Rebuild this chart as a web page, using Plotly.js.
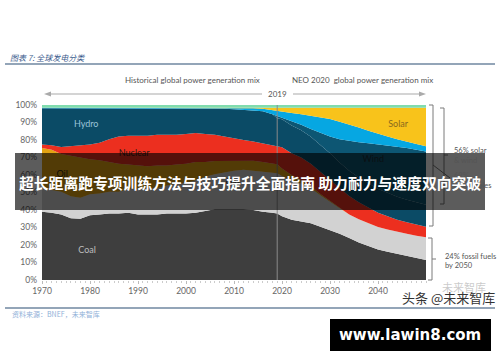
<!DOCTYPE html>
<html><head><meta charset="utf-8">
<script src="https://cdn.plot.ly/plotly-3.0.1.min.js"></script>
<style>html,body{margin:0;padding:0;background:#fff;}#chart{width:500px;height:362px;}</style>
</head><body><div id="chart"></div>
<script>
const years = [1970,1972,1974,1976,1978,1980,1982,1984,1986,1988,1990,1992,1994,1996,1998,2000,2002,2004,2006,2008,2010,2012,2014,2016,2018,2019,2020,2022,2024,2026,2028,2030,2032,2034,2036,2038,2040,2042,2044,2046,2048,2050];
const coal = [39,38.5,37.5,35.3,35,37,37.5,38,38,38.5,37.5,37.5,37.5,38,38,38,38.5,39.5,40.5,40.5,40.5,40.5,40,39,38.5,38,36.5,34.5,33.5,32.5,30.5,28.5,26.5,24,21.5,19.5,17.5,16.2,15,14,12.7,11.5];
const gas = [13,13,13,12.5,12,12,12,12.5,12.5,13.5,14.5,15,15,16,17,17.5,18.5,19.5,20,21,22,22.5,22.5,23,23,23,23,22.5,21.5,20,18,16.5,14.5,13.5,13.2,13,12.8,12.6,12.4,12.4,12.6,13];
const oil = [23.5,23,21.5,23.2,23,20,19,17,16,14,13.5,12.5,13,11.5,11,11,10.5,8.5,7.5,6.5,5.3,5,5.7,5.5,5.3,5.2,4.2,3,2,1.2,0.6,0.3,0.1,0,0,0,0,0,0,0,0,0];
const nuclear = [2,2.5,4,5.5,7,8.5,10,13,15.5,16.5,17,17.5,17.5,17.5,17,17,16.5,16,15,14,13,12,11,10.5,10.2,10.3,12.1,12.5,13,12.8,12.9,12.2,11.4,10.5,9.8,9,8.2,7.7,7.1,6.6,6.4,6];
const hydro = [20.7,21.2,22.2,21.7,21.2,20.7,19.7,17.7,16.2,15.7,15.7,15.7,15.2,15.2,15.2,14.7,14.2,14.7,15.1,15.9,16.8,17.3,17.7,18.4,17.7,16,16,15.8,15.6,15.4,15.2,15,14.7,14.4,14.1,13.8,13.5,13.3,13.1,12.9,12.7,12.5];
const wind = [0,0,0,0,0,0,0,0,0,0,0,0,0,0,0,0,0,0,0,0,0,0,0,0,0,1.2,1.1,2.7,3.1,4.4,6.8,9.5,13.3,17.1,20.1,22.8,25.5,27.2,28.7,29.5,30.1,30.5];
const windLight = [0.3,0.3,0.3,0.3,0.3,0.3,0.3,0.3,0.3,0.3,0.3,0.3,0.3,0.3,0.3,0.3,0.3,0.3,0.4,0.6,0.8,1,1.2,1.5,2.3,2.8,3.3,4.5,6,7.5,9,10,10,9.5,8.5,7.2,6,5,4.2,3.6,3.2,3];
const solar = [0,0,0,0,0,0,0,0,0,0,0,0,0,0,0,0,0,0,0,0,0.1,0.2,0.4,0.6,1.5,2,2.3,3,3.8,4.7,5.5,6.5,8,9.5,11.3,13.2,15,16.5,18,19.5,20.8,22];
const other = [1.5,1.5,1.5,1.5,1.5,1.5,1.5,1.5,1.5,1.5,1.5,1.5,1.5,1.5,1.5,1.5,1.5,1.5,1.5,1.5,1.5,1.5,1.5,1.5,1.5,1.5,1.5,1.5,1.5,1.5,1.5,1.5,1.5,1.5,1.5,1.5,1.5,1.5,1.5,1.5,1.5,1.5];

const seriesNames = ['Coal','Gas','Oil','Nuclear','Hydro','Wind','Wind (light)','Solar','Other'];
const seriesData = [coal,gas,oil,nuclear,hydro,wind,windLight,solar,other];
const seriesColors = ['#3e3e3e','#d2d2d2','#e3a413','#ec2f1f','#0b4b66','#0d5673','#06a7e2','#f8c31b','#80dcae'];

const xTicks = [1970,1980,1990,2000,2010,2020,2030,2040];
const yTicks = [0,10,20,30,40,50,60,70,80,90,100];
const yTickText = ['0%','10%','20%','30%','40%','50%','60%','70%','80%','90%','100%'];
const splitYear = 2019;

const labelText = ['Hydro','Nuclear','Oil','Gas','Coal','Wind','Solar','Other'];
const labelX = [1979.2,1989.2,1974.2,2009.8,1979.4,2039,2044.2,2044.2];
const labelY = [88.6,72,60,55.4,17,68.6,89,100.6];
const labelColors = ['#9cc3d8','#2b1a14','#2a2a1a','#333333','#bdbdbd','#1c2c33','#8b6a1f','#5b5b3f'];

const traces = seriesData.map((d,i)=>({
  x: years, y: d, name: seriesNames[i], type:'scatter', mode:'lines',
  stackgroup:'one', line:{width:0, color:seriesColors[i]}, fillcolor:seriesColors[i],
  hoverinfo:'skip', showlegend:false
}));
traces.push({x:labelX, y:labelY, text:labelText, type:'scatter', mode:'text',
  textfont:{family:'Lato, sans-serif', size:9, color:labelColors}, hoverinfo:'skip',
  showlegend:false, cliponaxis:false});

const L=42, W=384, B=280, H=175;
const px = x => (x-L)/W, py = y => (B-y)/H;
const line = (x0,y0,x1,y1,c,w) => ({type:'line',xref:'paper',yref:'paper',x0:px(x0),y0:py(y0),x1:px(x1),y1:py(y1),line:{color:c,width:w},layer:'above'});
const tri = (pts,c) => ({type:'path',xref:'paper',yref:'paper',path:'M'+pts.map(p=>px(p[0])+','+py(p[1])).join(' L')+' Z',fillcolor:c,line:{width:0},layer:'above'});
const txt = (x,y,t,opt) => Object.assign({xref:'paper',yref:'paper',x:px(x),y:py(y),text:t,showarrow:false,xanchor:'left',yanchor:'middle',font:{family:'Lato, sans-serif',size:7.5,color:'#555'}},opt||{});

const bc = '#7a7a7a';
const shapes = [
  {type:'line',xref:'x',yref:'paper',x0:splitYear,x1:splitYear,y0:0,y1:1,line:{color:'#8a8a8a',width:1},layer:'above'},
  line(5,64,495,64,'#6f87a0',1.5),
  line(5,308,495,308,'#6f87a0',1.5),
  line(49,94,262,94,'#aaaaaa',1.2), tri([[44,94],[51,91.5],[51,96.5]],'#aaaaaa'),
  line(293,94,421,94,'#aaaaaa',1.2), tri([[426,94],[419,91.5],[419,96.5]],'#aaaaaa'),
  line(429,105,433,105,bc,1), line(433,105,433,226,bc,1), line(429,226,433,226,bc,1),
  line(440,108,444,108,bc,1), line(444,108,444,204,bc,1), line(440,204,444,204,bc,1), line(444,155,448,155,bc,1),
  line(433,165,450,178,bc,1),
  line(428,238,432,238,bc,1), line(432,238,432,280,bc,1), line(428,280,432,280,bc,1), line(432,259,436,259,bc,1),
  {type:'rect',xref:'paper',yref:'paper',x0:px(15),x1:px(485),y0:py(153),y1:py(210),fillcolor:'rgba(0,0,0,0.64)',line:{width:0},layer:'above'},
  {type:'rect',xref:'paper',yref:'paper',x0:px(330),x1:px(491),y0:py(319),y1:py(351),fillcolor:'#000',line:{width:0},layer:'above'}
];

const annotations = [
  txt(8,57,'<i>图表 7: 全球发电分类</i>',{font:{family:'Noto Sans CJK SC',size:8,color:'#3a5a8c'}}),
  txt(192,80,'Historical global power generation mix',{xanchor:'center',font:{family:'Lato, sans-serif',size:8,color:'#555'}}),
  txt(362,80,'NEO 2020  global power generation mix',{xanchor:'center',font:{family:'Lato, sans-serif',size:8,color:'#555'}}),
  txt(277,94,'2019',{xanchor:'center',font:{family:'Lato, sans-serif',size:8,color:'#555'}}),
  txt(452,150,'56% solar'), txt(452,160,'& wind'),
  txt(452,175,'69%'), txt(452,185,'renewables'),
  txt(443,256,'24% fossil fuels'), txt(443,265,'by 2050'),
  txt(10,314,'资料来源：BNEF，未来智库',{font:{family:'Noto Sans CJK SC',size:7,color:'#8fb0d8'}}),
  txt(250,182,'<b>超长距离跑专项训练方法与技巧提升全面指南 助力耐力与速度双向突破</b>',{xanchor:'center',font:{family:'Noto Sans CJK SC',size:14.8,color:'#ffffff'}}),
  txt(440,287,'未来智库',{font:{family:'Noto Sans CJK SC',size:11,color:'rgba(150,150,150,0.5)'}}),
  txt(400,297,'头条 @未来智库',{font:{family:'Noto Sans CJK SC',size:13,color:'#333'}}),
  txt(410,335,'<b>www.lawin8.com</b>',{xanchor:'center',font:{family:'DejaVu Sans',size:15,color:'#ffffff'}})
];

const layout = {
  width:500, height:362, autosize:false, margin:{l:42,r:74,t:105,b:82,pad:0},
  paper_bgcolor:'#fff', plot_bgcolor:'#fff', showlegend:false,
  xaxis:{range:[1970,2050], tickvals:xTicks, showgrid:false, zeroline:false, showline:false, automargin:false,
    ticks:'outside', ticklen:3, tickcolor:'#bbbbbb',
    minor:{dtick:1, ticks:'outside', ticklen:2, tickcolor:'#cccccc'},
    tickfont:{family:'Lato, sans-serif', size:8.5, color:'#666'}},
  yaxis:{range:[0,100], tickvals:yTicks, ticktext:yTickText, showgrid:false, zeroline:false, showline:false, automargin:false,
    ticks:'', ticklabelstandoff:4, tickfont:{family:'Lato, sans-serif', size:8.5, color:'#666'}},
  shapes:shapes, annotations:annotations
};
Plotly.newPlot('chart', traces, layout, {displayModeBar:false, staticPlot:true});
</script></body></html>
